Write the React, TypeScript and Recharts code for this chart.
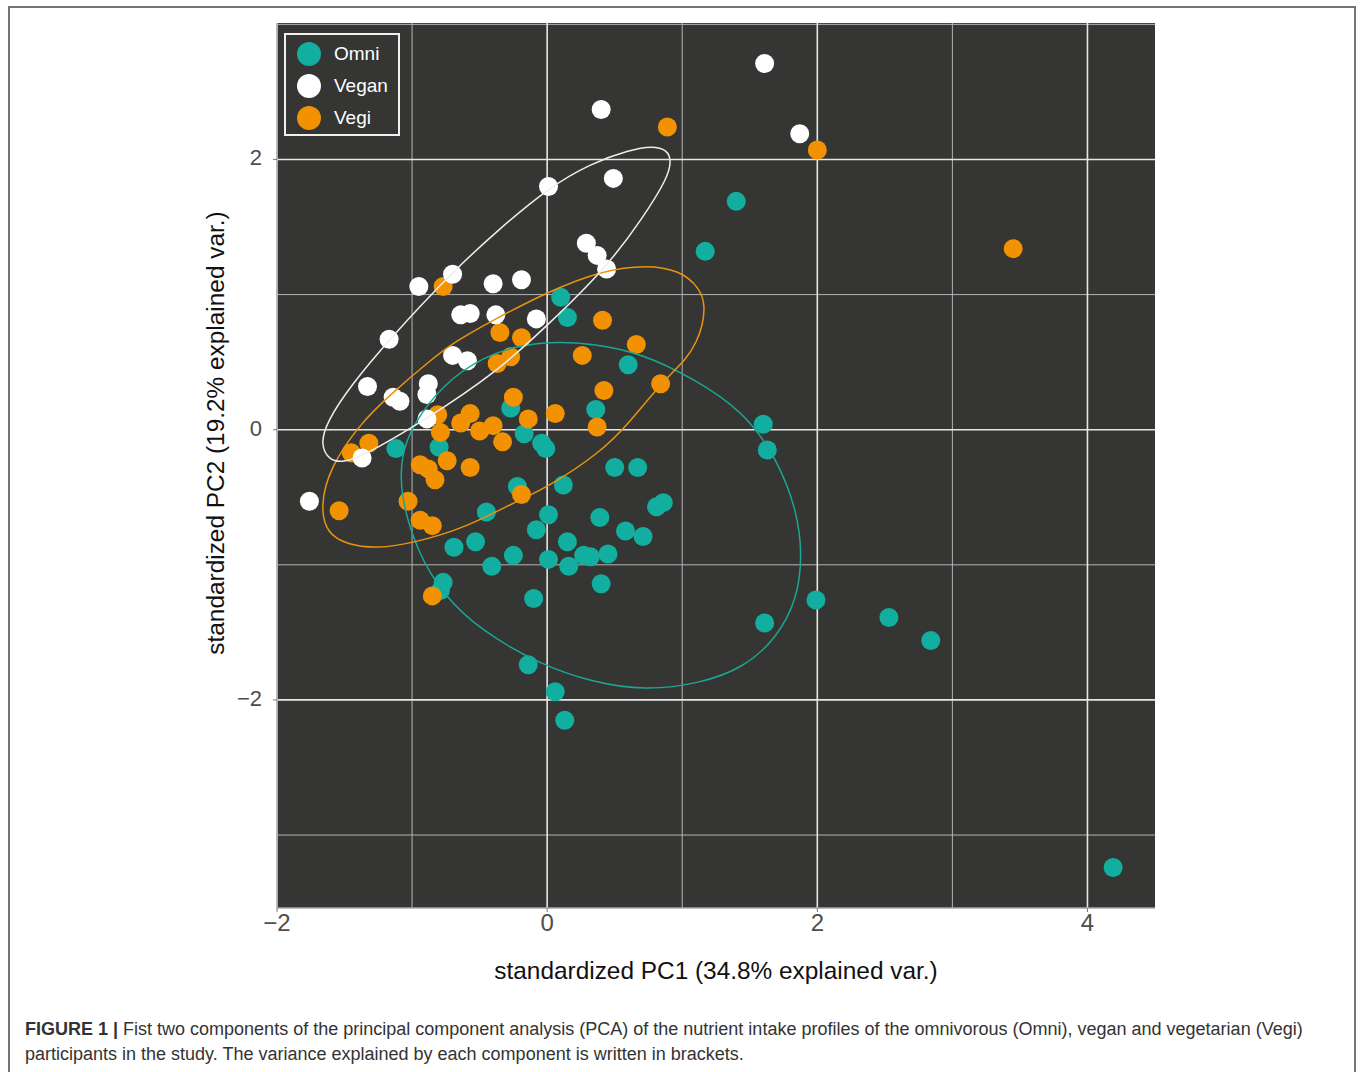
import { CartesianGrid, Label, Legend, Scatter, ScatterChart, XAxis, YAxis } from "recharts"

type Pt = [number, number]

const font = "'Liberation Sans', Arial, Helvetica, sans-serif"

const groups = ["Omni", "Vegan", "Vegi"]
const groupColors: Record<string, string> = { Omni: "#12afa0", Vegan: "#ffffff", Vegi: "#f39200" }
const ellipseColors: Record<string, string> = { Omni: "#1ba696", Vegan: "#eeeeee", Vegi: "#e8940e" }

// PC1, PC2 scores
const omniPoints: Pt[] = [
    [1.17, 1.32], [1.40, 1.69], [0.10, 0.98], [0.15, 0.83], [0.60, 0.48], [-0.27, 0.16], [0.36, 0.15],
    [-0.17, -0.03], [-0.04, -0.10], [-0.01, -0.14], [-0.80, -0.13], [-1.12, -0.14], [0.50, -0.28], [0.67, -0.28],
    [0.12, -0.41], [-0.22, -0.42], [0.81, -0.57], [0.86, -0.54], [-0.45, -0.61], [0.01, -0.63], [0.39, -0.65],
    [-0.08, -0.74], [0.58, -0.75], [0.71, -0.79], [-0.69, -0.87], [-0.53, -0.83], [0.15, -0.83], [-0.25, -0.93],
    [0.27, -0.93], [0.32, -0.94], [0.45, -0.92], [-0.41, -1.01], [0.01, -0.96], [0.16, -1.01], [-0.77, -1.13],
    [-0.79, -1.19], [0.40, -1.14], [-0.10, -1.25], [-0.14, -1.74], [0.06, -1.94], [0.13, -2.15], [1.60, 0.04],
    [1.63, -0.15], [1.99, -1.26], [1.61, -1.43], [2.53, -1.39], [2.84, -1.56], [4.19, -3.24],
]

const veganPoints: Pt[] = [
    [1.61, 2.71], [0.40, 2.37], [0.49, 1.86], [1.87, 2.19], [0.01, 1.80], [0.29, 1.38], [0.37, 1.29],
    [0.44, 1.19], [-0.70, 1.15], [-0.95, 1.06], [-0.40, 1.08], [-0.19, 1.11], [-0.64, 0.85], [-0.57, 0.86],
    [-0.38, 0.85], [-0.08, 0.82], [-1.17, 0.67], [-0.70, 0.55], [-0.59, 0.51], [-1.33, 0.32], [-1.14, 0.24],
    [-1.09, 0.21], [-0.88, 0.34], [-0.89, 0.26], [-0.89, 0.08], [-1.37, -0.21], [-1.76, -0.53],
]

const vegiPoints: Pt[] = [
    [0.89, 2.24], [2.00, 2.07], [3.45, 1.34], [-0.77, 1.06], [0.41, 0.81], [-0.35, 0.72], [-0.19, 0.68],
    [0.66, 0.63], [0.26, 0.55], [-0.37, 0.49], [-0.27, 0.54], [0.42, 0.29], [0.84, 0.34], [-0.25, 0.24],
    [-0.81, 0.11], [-0.64, 0.05], [-0.57, 0.12], [-0.50, -0.01], [-0.40, 0.03], [-0.14, 0.08], [0.06, 0.12],
    [0.37, 0.02], [-0.79, -0.02], [-0.33, -0.09], [-1.32, -0.10], [-1.45, -0.17], [-0.94, -0.26], [-0.88, -0.29],
    [-0.83, -0.37], [-0.74, -0.23], [-0.57, -0.28], [-0.19, -0.48], [-1.54, -0.60], [-1.03, -0.53], [-0.94, -0.67],
    [-0.85, -0.71], [-0.85, -1.23],
]

// outline points of the group ellipses
const omniEllipse: Pt[] = [
    [0.00, 0.65], [0.34, 0.64], [0.71, 0.56], [1.08, 0.38], [1.45, 0.14], [1.70, -0.21], [1.85, -0.60],
    [1.89, -0.93], [1.85, -1.26], [1.70, -1.54], [1.46, -1.76], [1.13, -1.88], [0.72, -1.93], [0.34, -1.87],
    [-0.05, -1.74], [-0.50, -1.48], [-0.77, -1.22], [-0.96, -0.91], [-1.09, -0.48], [-1.08, -0.19], [-1.00, 0.03],
    [-0.77, 0.34], [-0.47, 0.54], [-0.22, 0.62],
]

const veganEllipse: Pt[] = [
    [0.01, 1.79], [0.32, 1.97], [0.61, 2.07], [0.78, 2.10], [0.89, 2.07], [0.92, 1.99], [0.89, 1.86],
    [0.71, 1.57], [0.44, 1.20], [0.00, 0.77], [-0.37, 0.43], [-0.89, 0.08], [-1.37, -0.20], [-1.51, -0.24],
    [-1.61, -0.23], [-1.68, -0.11], [-1.63, 0.06], [-1.46, 0.32], [-1.16, 0.68], [-0.70, 1.17], [-0.35, 1.49],
]

const vegiEllipse: Pt[] = [
    [1.17, 0.92], [1.13, 1.05], [0.98, 1.18], [0.74, 1.22], [0.41, 1.18], [0.00, 1.02], [-0.42, 0.80],
    [-0.67, 0.66], [-0.87, 0.51], [-1.16, 0.26], [-1.38, 0.05], [-1.61, -0.28], [-1.68, -0.57], [-1.63, -0.77],
    [-1.48, -0.85], [-1.26, -0.88], [-0.99, -0.84], [-0.59, -0.72], [-0.25, -0.54], [0.00, -0.43], [0.39, -0.17],
    [0.59, 0.03], [0.84, 0.34], [1.04, 0.53], [1.11, 0.66], [1.15, 0.77],
]

const xMajor = [-2, 0, 2, 4]
const xMinor = [-1, 1, 3]
const yMajor = [-2, 0, 2]
const yMinor = [-3, -1, 1, 3]

const xTitle = "standardized PC1 (34.8% explained var.)"
const yTitle = "standardized PC2 (19.2% explained var.)"

const toXY = (pts: Pt[]) => pts.map(([x, y]) => ({ x, y }))
const fmt = (v: number) => (v < 0 ? `\u2212${Math.abs(v)}` : `${v}`)

const dot = (color: string) => (p: any) => <circle cx={p.cx} cy={p.cy} r={9.5} fill={color} />
const noDot = () => <g />

function XTick(p: any) {
    return (
        <g>
            <line x1={p.x} x2={p.x} y1={p.y} y2={p.y + 4} stroke="#7a7a7a" strokeWidth={1} />
            <text x={p.x} y={p.y + 23} textAnchor="middle" fontSize={24} fill="#4d4d4d" fontFamily={font}>
                {fmt(p.payload.value)}
            </text>
        </g>
    )
}

function YTick(p: any) {
    return (
        <g>
            <line x1={p.x - 4} x2={p.x} y1={p.y} y2={p.y} stroke="#7a7a7a" strokeWidth={1} />
            <text x={p.x - 15} y={p.y + 6} textAnchor="end" fontSize={22} fill="#4d4d4d" fontFamily={font}>
                {fmt(p.payload.value)}
            </text>
        </g>
    )
}

function LegendBox() {
    return (
        <div style={{
            border: "2px solid #f0f0f0", width: 116, height: 103, boxSizing: "border-box",
            padding: "3px 0 0 11px", fontFamily: font, fontSize: 19, color: "#ffffff",
        }}>
            {groups.map((g) => (
                <div key={g} style={{ display: "flex", alignItems: "center", height: 32 }}>
                    <span style={{
                        display: "inline-block", width: 24, height: 24, borderRadius: 12,
                        background: groupColors[g], marginRight: 13,
                    }} />
                    <span>{g}</span>
                </div>
            ))}
        </div>
    )
}

function App() {
    return (
        <div style={{ position: "relative", width: 1360, height: 1072, fontFamily: font, overflow: "hidden" }}>
            <style>{"body { margin: 0; }"}</style>
            <div style={{
                position: "absolute", left: 8, top: 6, width: 1348, height: 1066,
                border: "2px solid #747474", borderBottom: "none", boxSizing: "border-box",
            }} />
            <div style={{ position: "absolute", left: 190, top: 10 }}>
                <ScatterChart width={1000} height={1000} margin={{ top: 13, right: 35, bottom: 0, left: 0 }}>
                    <CartesianGrid
                        fill="#353533"
                        fillOpacity={1}
                        stroke="#b4b4b4"
                        strokeWidth={1}
                        verticalValues={xMinor}
                        horizontalValues={yMinor}
                        syncWithTicks
                    />
                    <CartesianGrid
                        stroke="#e6e6e6"
                        strokeWidth={1.6}
                        verticalValues={xMajor}
                        horizontalValues={yMajor}
                        syncWithTicks
                    />
                    <XAxis
                        type="number"
                        dataKey="x"
                        domain={[-2, 4.5]}
                        ticks={xMajor}
                        interval={0}
                        allowDataOverflow
                        height={102}
                        tickLine={false}
                        tickSize={0}
                        tickMargin={0}
                        axisLine={{ stroke: "#a8a8a8", strokeWidth: 1.5 }}
                        tick={XTick}
                    >
                        <Label content={(p: any) => (
                            <text x={p.viewBox.x + p.viewBox.width / 2} y={p.viewBox.y + 71} textAnchor="middle"
                                fontSize={24.4} fill="#111111" fontFamily={font}>{xTitle}</text>
                        )} />
                    </XAxis>
                    <YAxis
                        type="number"
                        dataKey="y"
                        domain={[-3.54, 3.01]}
                        ticks={yMajor}
                        interval={0}
                        allowDataOverflow
                        width={87}
                        tickLine={false}
                        tickSize={0}
                        tickMargin={0}
                        axisLine={{ stroke: "#a8a8a8", strokeWidth: 1.5 }}
                        tick={YTick}
                    >
                        <Label content={(p: any) => {
                            const x = p.viewBox.x + 34
                            const y = p.viewBox.y + 410
                            return (
                                <text x={x} y={y} transform={`rotate(-90, ${x}, ${y})`} textAnchor="middle"
                                    fontSize={24.4} fill="#111111" fontFamily={font}>{yTitle}</text>
                            )
                        }} />
                    </YAxis>
                    <Legend
                        layout="vertical"
                        verticalAlign="middle"
                        align="center"
                        wrapperStyle={{ left: 94, top: 23, width: "auto" }}
                        content={LegendBox}
                    />
                    <Scatter name="Omni" data={toXY(omniPoints)} fill={groupColors.Omni} shape={dot(groupColors.Omni)} isAnimationActive={false} />
                    <Scatter name="Vegi" data={toXY(vegiPoints)} fill={groupColors.Vegi} shape={dot(groupColors.Vegi)} isAnimationActive={false} />
                    <Scatter name="Vegan" data={toXY(veganPoints)} fill={groupColors.Vegan} shape={dot(groupColors.Vegan)} isAnimationActive={false} />
                    <Scatter data={toXY(omniEllipse)} legendType="none" shape={noDot} line={{ stroke: ellipseColors.Omni, strokeWidth: 1.5 }} lineJointType="basisClosed" isAnimationActive={false} />
                    <Scatter data={toXY(vegiEllipse)} legendType="none" shape={noDot} line={{ stroke: ellipseColors.Vegi, strokeWidth: 1.5 }} lineJointType="basisClosed" isAnimationActive={false} />
                    <Scatter data={toXY(veganEllipse)} legendType="none" shape={noDot} line={{ stroke: ellipseColors.Vegan, strokeWidth: 1.5 }} lineJointType="basisClosed" isAnimationActive={false} />
                </ScatterChart>
            </div>
            <div style={{
                position: "absolute", left: 25, top: 1017, fontSize: 18, lineHeight: "25px",
                color: "#333333", whiteSpace: "nowrap", fontFamily: font,
            }}>
                <b>FIGURE 1 |</b> Fist two components of the principal component analysis (PCA) of the nutrient intake profiles of the omnivorous (Omni), vegan and vegetarian (Vegi)
                <br />
                participants in the study. The variance explained by each component is written in brackets.
            </div>
        </div>
    )
}

export default App
